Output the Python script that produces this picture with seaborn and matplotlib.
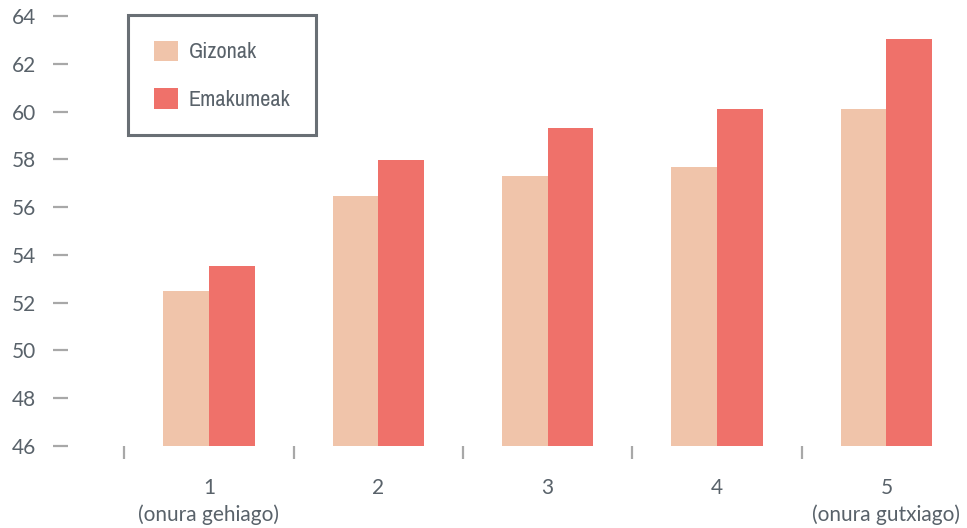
import pandas as pd
import numpy as np
import matplotlib.pyplot as plt
import seaborn as sns
from matplotlib import font_manager

categories = ["1\n(onura gehiago)", "2", "3", "4", "5\n(onura gutxiago)"]
series = ["Gizonak", "Emakumeak"]
gizonak = [52.5, 56.47, 57.3, 57.68, 60.1]
emakumeak = [53.55, 57.98, 59.32, 60.1, 63.05]
yticks = [46, 48, 50, 52, 54, 56, 58, 60, 62, 64]

colors = ["#F0C4AA", "#EF716A"]
text_color = "#59626A"
tick_color = "#A8A8A8"

df = pd.DataFrame({
    "kat": categories * 2,
    "sexua": [series[0]] * 5 + [series[1]] * 5,
    "balioa": gizonak + emakumeak,
})

sns.set_style("white")
plt.rcParams["font.family"] = ["Lato", "DejaVu Sans"]

# legend uses a condensed face if one is installed
names = sorted({f.name for f in font_manager.fontManager.ttflist})
narrow = [n for n in names if "Narrow" in n or "Condensed" in n]

fig = plt.figure(figsize=(9.67, 5.28), dpi=100)
ax = fig.add_axes([68 / 967, 82 / 528, (950 - 68) / 967, (446 - 16) / 528])

sns.barplot(data=df, x="kat", y="balioa", hue="sexua", palette=colors,
            width=0.54, saturation=1, gap=0, ax=ax, errorbar=None, linewidth=0)

ax.set_ylim(46, 64)
ax.set_xlim(-0.832, 4.375)
ax.set_yticks(yticks)
ax.set_xticks(range(5))
ax.set_xticklabels(categories)
ax.set_xticks([-0.5, 0.5, 1.5, 2.5, 3.5], minor=True)
ax.set_xlabel("")
ax.set_ylabel("")

for s in ax.spines.values():
    s.set_visible(False)

ax.tick_params(axis="y", which="major", direction="out", length=10.8, width=1.6,
               color=tick_color, pad=12, labelsize=15, labelcolor=text_color, left=True)
ax.tick_params(axis="x", which="major", length=0, pad=23, labelsize=15,
               labelcolor=text_color)
ax.tick_params(axis="x", which="minor", direction="out", length=9.5, width=1.6,
               color=tick_color, bottom=True)
for lab in ax.get_xticklabels():
    lab.set_linespacing(1.4)

if narrow:
    leg_family = [narrow[0], "DejaVu Sans"]
    leg_size = 16
else:
    leg_family = ["Lato", "DejaVu Sans"]
    leg_size = 14

leg = ax.legend(loc="upper left", bbox_to_anchor=(128 / 967, 1 - 15 / 528),
                bbox_transform=fig.transFigure, borderaxespad=0,
                fancybox=False, frameon=True, handlelength=1.08, handleheight=1.05,
                handletextpad=0.5, labelspacing=1.15, borderpad=1.15,
                prop={"family": leg_family, "size": leg_size})
leg.get_frame().set_edgecolor("#434B52")
leg.get_frame().set_linewidth(2.2)
for t in leg.get_texts():
    t.set_color(text_color)

fig.savefig("out.png", dpi=100)
